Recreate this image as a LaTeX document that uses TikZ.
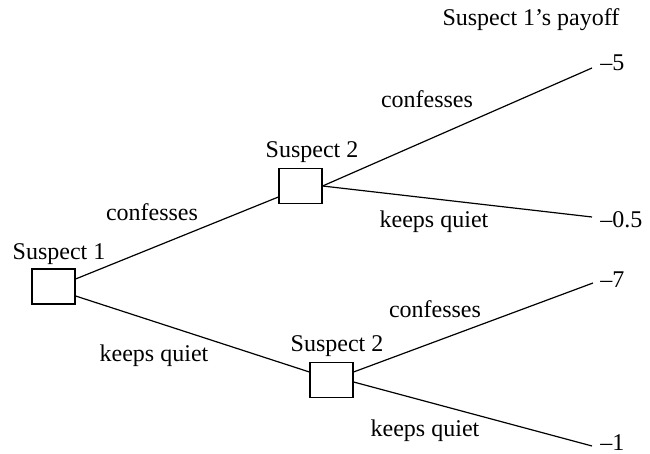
\documentclass[tikz,border=0pt]{standalone}
\usepackage{fontspec}
\setmainfont{Liberation Serif}
\begin{document}
\begin{tikzpicture}[x=0.5pt,y=-0.5pt,
  every node/.style={font=\fontsize{12}{14}\selectfont},
  decbox/.style={draw,line width=0.6pt,minimum width=21.5pt,minimum height=17.5pt,inner sep=0pt},
  txt/.style={inner sep=0pt,anchor=base},
  pay/.style={inner sep=0pt,anchor=west},
  branch/.style={line width=0.6pt}]
\useasboundingbox (0,0) rectangle (650,454);
% decision boxes
\node[decbox] (s1) at (53.5,286.5) {};
\node[decbox] (s2a) at (300.5,186) {};
\node[decbox] (s2b) at (331.5,380) {};
% box titles
\node[txt] (t1) at (59,260) {Suspect 1};
\node[txt] (t2a) at (312,158) {Suspect 2};
\node[txt] (t2b) at (337,352) {Suspect 2};
\node[txt] (head) at (531,26) {Suspect 1’s payoff};
% ends
\coordinate (e1) at (592,68);
\coordinate (e2) at (592,217);
\coordinate (e3) at (593,283);
\coordinate (e4) at (592,446);
% payoffs
\node[pay] (p1) at (600,63) {–5};
\node[pay] (p2) at (600,220) {–0.5};
\node[pay] (p3) at (600,280) {–7};
\node[pay] (p4) at (600,443) {–1};
% branches
\draw[branch] ([yshift=3.75pt]s1.east) -- ([yshift=-5.5pt]s2a.west);
\draw[branch] ([yshift=-4.75pt]s1.east) -- ([yshift=4pt]s2b.west);
\draw[branch] (s2a.east) -- (e1);
\draw[branch] (s2a.east) -- (e2);
\draw[branch] ([yshift=4pt]s2b.east) -- (e3);
\draw[branch] ([yshift=-1pt]s2b.east) -- (e4);
% branch labels
\node[txt] (l1) at (152,221) {confesses};
\node[txt] (l2) at (154,362) {keeps quiet};
\node[txt] (l3) at (427,108) {confesses};
\node[txt] (l4) at (434,228) {keeps quiet};
\node[txt] (l5) at (435,318) {confesses};
\node[txt] (l6) at (425,437) {keeps quiet};
\end{tikzpicture}
\end{document}
